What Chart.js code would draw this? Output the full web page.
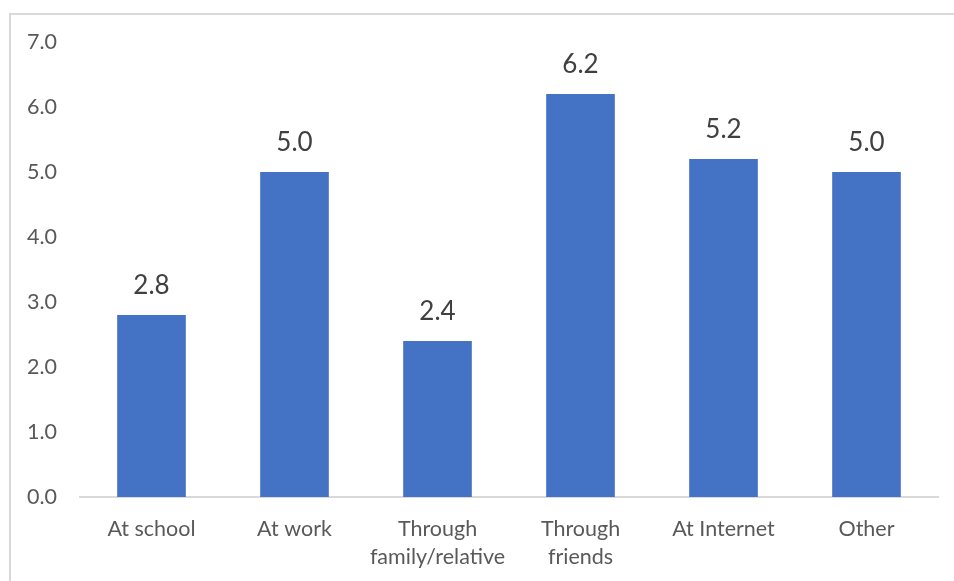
<!DOCTYPE html>
<html>
<head>
<meta charset="utf-8">
<script src="https://cdn.jsdelivr.net/npm/chart.js@4/dist/chart.umd.min.js"></script>
<style>
  html, body { margin:0; padding:0; background:#fff; overflow:hidden; }
  #frame { position:absolute; left:9px; top:13px; width:1000px; height:600px;
           border-left:2px solid #d9d9d9; border-top:2px solid #d9d9d9; }
  #wrap { position:absolute; left:0; top:0; width:954px; height:581px; }
</style>
</head>
<body>
<div id="frame"></div>
<div id="wrap"><canvas id="chart" width="954" height="581"></canvas></div>
<script>
// where people met — values per channel
const categories = ['At school', 'At work', ['Through', 'family/relative'], ['Through', 'friends'], 'At Internet', 'Other'];
const values = [2.8, 5.0, 2.4, 6.2, 5.2, 5.0];
const yTicks = [0, 1, 2, 3, 4, 5, 6, 7];

const FONT = "Lato, 'Open Sans', sans-serif";

// value labels above each bar
const valueLabels = {
  id: 'valueLabels',
  afterDatasetsDraw(chart){
    const ctx = chart.ctx;
    const meta = chart.getDatasetMeta(0);
    ctx.save();
    ctx.font = '26px ' + FONT;
    ctx.fillStyle = '#404040';
    ctx.textAlign = 'center';
    ctx.textBaseline = 'middle';
    meta.data.forEach((bar, i) => {
      ctx.fillText(values[i].toFixed(1), bar.x, bar.y - 29);
    });
    ctx.restore();
  }
};

new Chart(document.getElementById('chart'), {
  type: 'bar',
  data: {
    labels: categories,
    datasets: [{ data: values, backgroundColor: '#4472C4', categoryPercentage: 1, barPercentage: 0.48 }]
  },
  options: {
    responsive: false,
    animation: false,
    layout: { padding: { top: 42, right: 16, left: 0, bottom: 0 } },
    plugins: { legend: { display: false }, tooltip: { enabled: false } },
    scales: {
      x: {
        grid: { display: false, drawTicks: false },
        border: { display: true, color: '#d9d9d9', width: 2 },
        ticks: { color: '#595959', font: { family: FONT, size: 21.5, lineHeight: 1.3 }, padding: 18, maxRotation: 0 },
        afterFit(s){ s.height = 84; }
      },
      y: {
        min: 0, max: 7,
        afterBuildTicks(s){ s.ticks = yTicks.map(v => ({ value: v })); },
        grid: { display: false, drawTicks: false },
        border: { display: false },
        ticks: { color: '#595959', font: { family: FONT, size: 21.5 }, padding: 23, callback: v => v.toFixed(1) },
        afterFit(s){ s.width = 80; }
      }
    }
  },
  plugins: [valueLabels]
});
</script>
</body>
</html>
